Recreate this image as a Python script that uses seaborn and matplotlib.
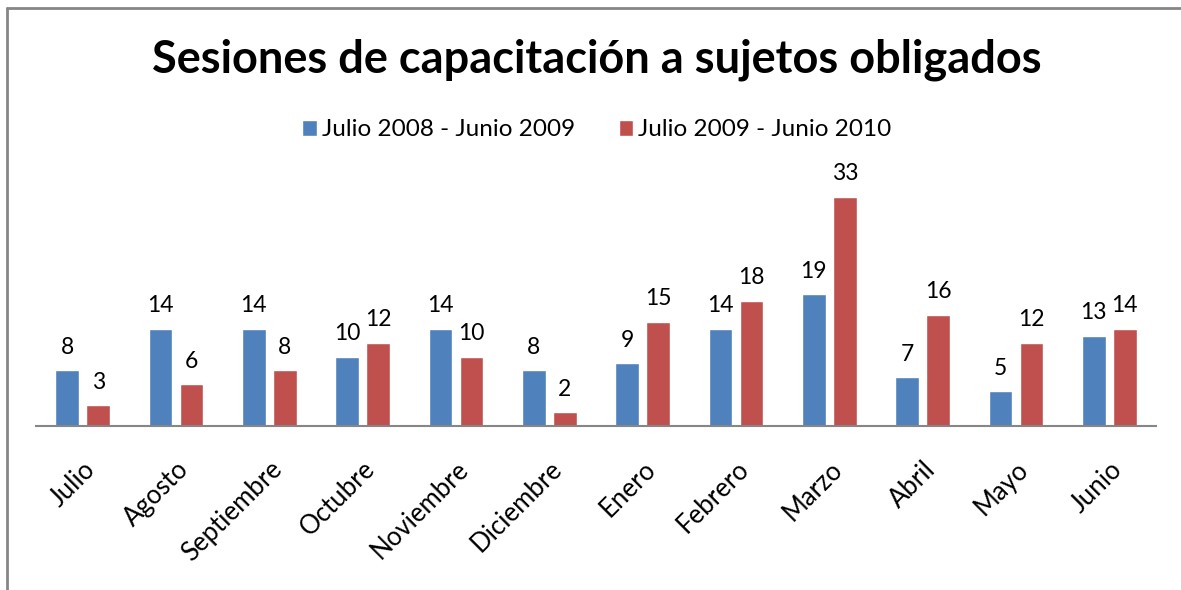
import matplotlib
matplotlib.use('Agg')
import matplotlib.pyplot as plt
import seaborn as sns
import pandas as pd
from matplotlib.lines import Line2D

# Datos
meses = ['Julio', 'Agosto', 'Septiembre', 'Octubre', 'Noviembre', 'Diciembre',
         'Enero', 'Febrero', 'Marzo', 'Abril', 'Mayo', 'Junio']
periodo_1 = [8, 14, 14, 10, 14, 8, 9, 14, 19, 7, 5, 13]
periodo_2 = [3, 6, 8, 12, 10, 2, 15, 18, 33, 16, 12, 14]
series = ['Julio 2008 - Junio 2009', 'Julio 2009 - Junio 2010']
colores = ['#4F81BD', '#C0504D']
titulo = 'Sesiones de capacitación a sujetos obligados'

df = pd.DataFrame({
    'mes': meses * 2,
    'sesiones': periodo_1 + periodo_2,
    'periodo': [series[0]] * len(meses) + [series[1]] * len(meses),
})

sns.set_style('white')
plt.rcParams['font.family'] = ['Lato', 'DejaVu Sans']
plt.rcParams['text.color'] = 'black'
plt.rcParams['xtick.color'] = 'black'

W, H = 1181, 590
fig = plt.figure(figsize=(W / 100, H / 100), dpi=100)
ax = fig.add_axes([36 / W, (H - 426) / H, (1156 - 36) / W, (426 - 160) / H])

sns.barplot(data=df, x='mes', y='sesiones', hue='periodo', order=meses,
            hue_order=series, palette=colores, width=0.665, gap=0.23,
            saturation=1, ax=ax)

for cont in ax.containers:
    ax.bar_label(cont, padding=9, fontsize=16.5, color='black')

ax.set_ylim(0, 38.3)
ax.set_xlim(-0.5, len(meses) - 0.5)
ax.set_xlabel('')
ax.set_ylabel('')
ax.set_yticks([])
ax.tick_params(axis='x', length=0, pad=22)
plt.setp(ax.get_xticklabels(), rotation=45, ha='right', rotation_mode='anchor', fontsize=18.5)
for s in ['top', 'right', 'left']:
    ax.spines[s].set_visible(False)
ax.spines['bottom'].set_color('#868686')
ax.spines['bottom'].set_linewidth(1.5)

ax.legend(loc='center', bbox_to_anchor=(597 / W, 1 - 130 / H), bbox_transform=fig.transFigure,
          ncol=2, frameon=False, fontsize=17.5, handlelength=0.6, handleheight=0.6,
          handletextpad=0.2, columnspacing=1.8)

fig.text(597 / W, 1 - 60 / H, titulo, ha='center', va='center', fontsize=32.5,
         fontweight='bold', color='black')

# borde del gráfico (solo izquierda y arriba visibles)
fig.lines.append(Line2D([7 / W, 7 / W], [0, 1 - 8 / H], transform=fig.transFigure,
                        color='#868686', linewidth=2))
fig.lines.append(Line2D([7 / W, 1], [1 - 8 / H, 1 - 8 / H], transform=fig.transFigure,
                        color='#868686', linewidth=2))

fig.savefig('out.png', dpi=100)
